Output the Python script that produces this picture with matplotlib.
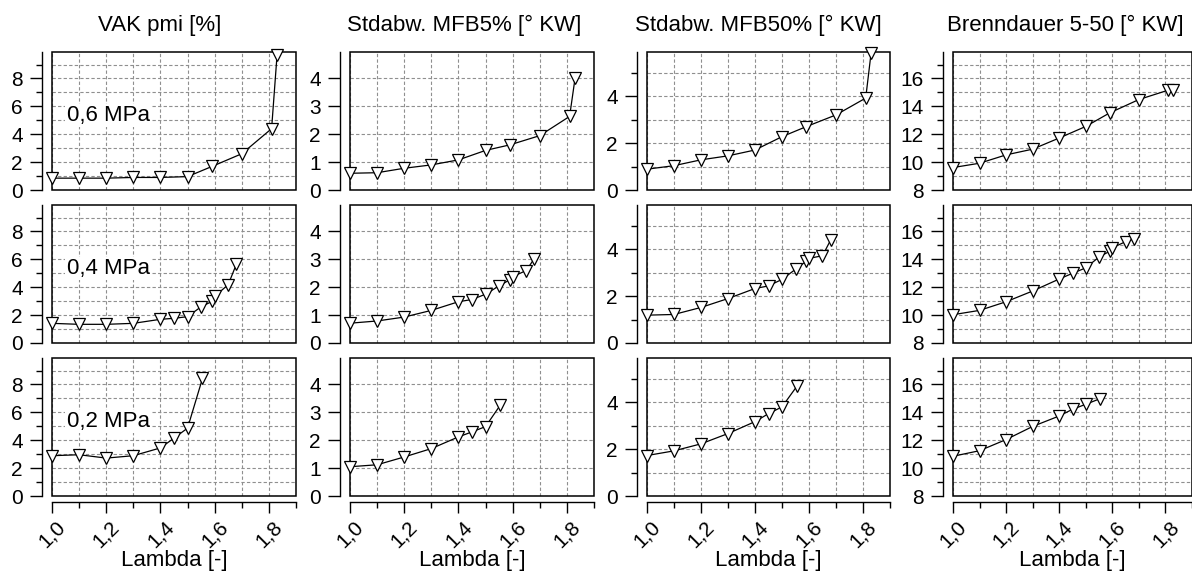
import matplotlib
matplotlib.use("Agg")
import matplotlib.pyplot as plt
from matplotlib.ticker import MultipleLocator, FuncFormatter
from matplotlib.patches import Rectangle

plt.rcParams['font.family'] = ['Liberation Sans', 'DejaVu Sans']

# ---------------- data ----------------
titles = ["VAK pmi [%]", "Stdabw. MFB5% [° KW]", "Stdabw. MFB50% [° KW]", "Brenndauer 5-50 [° KW]"]
pressures = ["0,6 MPa", "0,4 MPa", "0,2 MPa"]
xlabel = "Lambda [-]"

lam_06 = [1.0, 1.1, 1.2, 1.3, 1.4, 1.5, 1.59, 1.7, 1.81, 1.83]
lam_04 = [1.0, 1.1, 1.2, 1.3, 1.4, 1.45, 1.5, 1.55, 1.59, 1.6, 1.65, 1.68]
lam_02 = [1.0, 1.1, 1.2, 1.3, 1.4, 1.45, 1.5, 1.555]

vak_06 = [0.85, 0.85, 0.85, 0.9, 0.9, 0.96, 1.69, 2.6, 4.4, 9.65]
vak_04 = [1.41, 1.34, 1.34, 1.41, 1.7, 1.77, 1.89, 2.6, 2.98, 3.34, 4.19, 5.65]
vak_02 = [2.89, 2.96, 2.72, 2.89, 3.45, 4.15, 4.87, 8.43]

mfb5_06 = [0.6, 0.62, 0.78, 0.9, 1.08, 1.42, 1.62, 1.95, 2.64, 4.0]
mfb5_04 = [0.71, 0.79, 0.93, 1.17, 1.48, 1.56, 1.75, 2.05, 2.27, 2.38, 2.6, 3.03]
mfb5_02 = [1.05, 1.12, 1.4, 1.7, 2.12, 2.3, 2.49, 3.27]

mfb50_06 = [0.89, 1.04, 1.29, 1.46, 1.71, 2.28, 2.71, 3.21, 3.93, 5.86]
mfb50_04 = [1.19, 1.22, 1.52, 1.9, 2.33, 2.44, 2.72, 3.15, 3.5, 3.62, 3.73, 4.4]
mfb50_02 = [1.73, 1.93, 2.23, 2.67, 3.18, 3.52, 3.81, 4.69]

bd_06 = [9.61, 9.92, 10.52, 10.93, 11.73, 12.56, 13.53, 14.49, 15.16, 15.16]
bd_04 = [10.03, 10.34, 10.96, 11.73, 12.59, 13.0, 13.39, 14.17, 14.58, 14.83, 15.27, 15.46]
bd_02 = [10.85, 11.25, 12.05, 12.99, 13.74, 14.22, 14.58, 14.99]

lambdas = [lam_06, lam_04, lam_02]
series = [
    [vak_06, vak_04, vak_02],
    [mfb5_06, mfb5_04, mfb5_02],
    [mfb50_06, mfb50_04, mfb50_02],
    [bd_06, bd_04, bd_02],
]
ylims = [(0, 9.9), (0, 4.95), (0, 5.9), (8, 17.9)]
ymajor = [2, 1, 2, 2]
yminor = [1, 1, 1, 1]

# ---------------- layout ----------------
W, H = 1192, 576
fig = plt.figure(figsize=(W / 100, H / 100), dpi=100)
col_left = [52, 350, 647, 953]
col_w = [244, 244, 243, 239]
title_x = [0.44, 0.47, 0.46, 0.47]
row_top = [52, 205, 358]
row_h = 138

comma = FuncFormatter(lambda v, p: ("%.1f" % v).replace(".", ","))
intfmt = FuncFormatter(lambda v, p: "%d" % round(v))

grid_kw = dict(color="#8f8f8f", linestyle=(0, (3, 2)), linewidth=0.8)
TICK_FS = 15
TEXT_FS = 16

for c in range(4):
    for r in range(3):
        l = col_left[c] / W
        b = 1 - (row_top[r] + row_h) / H
        ax = fig.add_axes([l, b, col_w[c] / W, row_h / H])
        ax.set_xlim(1.0, 1.9)
        ax.set_ylim(*ylims[c])
        ax.xaxis.set_major_locator(MultipleLocator(0.2))
        ax.xaxis.set_minor_locator(MultipleLocator(0.1))
        ax.yaxis.set_major_locator(MultipleLocator(ymajor[c]))
        ax.yaxis.set_minor_locator(MultipleLocator(yminor[c]))
        ax.yaxis.set_major_formatter(intfmt)
        ax.xaxis.set_major_formatter(comma)
        ax.grid(True, which="both", axis="both", **grid_kw)
        ax.set_axisbelow(True)

        for s in ["top", "right"]:
            ax.spines[s].set_visible(False)
        ax.spines["left"].set_position(("outward", 7.5))
        ax.spines["left"].set_linewidth(1.0)
        ax.add_patch(Rectangle((0, 0), 1, 1, transform=ax.transAxes, fill=False,
                               edgecolor="black", linewidth=1.1, clip_on=False, zorder=5))
        ax.tick_params(axis="y", which="major", direction="out", length=9, width=1,
                       labelsize=TICK_FS, pad=4.5)
        ax.tick_params(axis="y", which="minor", direction="out", length=4.5, width=1)

        if r < 2:
            ax.spines["bottom"].set_visible(False)
            ax.tick_params(axis="x", which="both", bottom=False, labelbottom=False)
        else:
            ax.spines["bottom"].set_position(("outward", 4))
            ax.spines["bottom"].set_linewidth(1.0)
            ax.tick_params(axis="x", which="major", direction="out", length=8, width=1,
                           labelsize=TICK_FS, pad=3.5)
            ax.tick_params(axis="x", which="minor", direction="out", length=4, width=1)
            for t in ax.get_xticklabels():
                t.set_rotation(45)
                t.set_ha("center")
            ax.set_xlabel(xlabel, fontsize=TEXT_FS, labelpad=-1)

        ax.plot(lambdas[r], series[c][r], color="black", linewidth=0.9,
                marker="v", markersize=9, markerfacecolor="white",
                markeredgecolor="black", markeredgewidth=0.9, clip_on=False, zorder=6)

        if r == 0:
            ax.set_title(titles[c], fontsize=TEXT_FS, pad=15, x=title_x[c])
        if c == 0:
            ax.text(0.06, 0.54, pressures[r], transform=ax.transAxes, fontsize=TEXT_FS,
                    va="center", ha="left", zorder=7,
                    bbox=dict(facecolor="white", edgecolor="none", pad=1))

fig.savefig("out.png", dpi=100)
